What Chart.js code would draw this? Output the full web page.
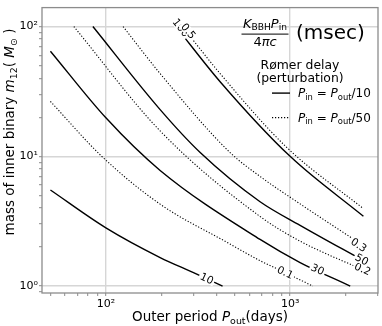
<!DOCTYPE html>
<html>
<head>
<meta charset="utf-8">
<script src="https://cdn.jsdelivr.net/npm/chart.js@4.4.1/dist/chart.umd.min.js"></script>
<style>
  html, body { margin: 0; padding: 0; background: #fff; }
  canvas { display: block; }
</style>
</head>
<body>
<canvas id="delayChart" width="382" height="326"></canvas>
<script>
// contours of K_BBH*P_in/(4 pi c) in msec
// x = outer period (days), y = inner binary mass (Msun)

// solid: P_in = P_out/10
const pOut10 = [50, 100, 197, 299, 430];
const mass10 = [5.5, 2.81, 1.66, 1.27, 1.0];
const pOut30 = [50, 100, 197, 687, 1133, 2120];
const mass30 = [64.6, 19.8, 7.79, 2.29, 1.52, 1.0];
const pOut50 = [85, 197, 325, 687, 1133, 2500];
const mass50 = [100, 22.9, 10.7, 4.47, 2.94, 1.57];
const pOut100 = [240, 417, 1000, 2500];
const mass100 = [100, 37.6, 10, 3.45];

// dotted: P_in = P_out/50
const pOut01 = [50, 95, 197, 453, 687, 940, 1330];
const mass01 = [26.5, 10, 4.28, 2.18, 1.57, 1.27, 1.0];
const pOut02 = [67, 197, 687, 1133, 2500];
const mass02 = [100, 15.7, 3.44, 2.22, 1.33];
const pOut03 = [124, 197, 472, 687, 1133, 2500];
const mass03 = [100, 43.4, 10.7, 7.0, 4.3, 2.05];
const pOut05 = [260, 417, 960, 2500];
const mass05 = [100, 43.4, 11.7, 3.95];

// inline contour labels (text, P_out, m12)
const labelText = ['10', '0.1', '30', '0.2', '50', '0.3', '100', '0.5'];
const labelP = [353, 940, 1409, 2472, 2449, 2355, 255, 280];
const labelM = [1.14, 1.27, 1.34, 1.35, 1.60, 2.07, 97.9, 92.1];

// tick positions
const xTicks = [50, 60, 70, 80, 90, 100, 200, 300, 400, 500, 600, 700, 800, 900, 1000, 2000, 3000];
const yTicks = [0.9, 1, 2, 3, 4, 5, 6, 7, 8, 9, 10, 20, 30, 40, 50, 60, 70, 80, 90, 100];

const FONT = '"DejaVu Sans", "Liberation Sans", sans-serif';
Chart.defaults.font.family = FONT;
Chart.defaults.color = '#000';

const isDecade = v => Math.abs(Math.log10(v) - Math.round(Math.log10(v))) < 1e-9;
const sup = { '0': '\u2070', '1': '\u00b9', '2': '\u00b2', '3': '\u00b3' };
const decadeLabel = v => isDecade(v) ? '10' + sup[String(Math.round(Math.log10(v)))] : '';

function pts(xs, ys) {
  return xs.map((x, i) => ({ x: x, y: ys[i] }));
}

function solid(label, xs, ys) {
  return { label, data: pts(xs, ys), borderColor: '#000', borderWidth: 1.4, cubicInterpolationMode: 'monotone' };
}
function dotted(label, xs, ys) {
  return { label, data: pts(xs, ys), borderColor: '#000', borderWidth: 1.1, borderDash: [1.2, 1.8], cubicInterpolationMode: 'monotone' };
}

// mixed text: [text, kind] with kind '' | 'i' (italic) | 'sub'
function drawRich(ctx, parts, x, y, size, align) {
  const fontFor = k => (k === 'i' ? 'italic ' : '') + (k === 'sub' ? size * 0.7 : size) + 'px ' + FONT;
  let w = 0;
  parts.forEach(([t, k]) => { ctx.font = fontFor(k); w += ctx.measureText(t).width; });
  let cx = align === 'center' ? x - w / 2 : (align === 'right' ? x - w : x);
  ctx.textAlign = 'left';
  ctx.textBaseline = 'alphabetic';
  parts.forEach(([t, k]) => {
    ctx.font = fontFor(k);
    ctx.fillText(t, cx, k === 'sub' ? y + size * 0.22 : y);
    cx += ctx.measureText(t).width;
  });
  return w;
}

function segAngle(meta, px, py) {
  const p = meta.data;
  let best = 0, bd = Infinity;
  for (let i = 0; i < p.length - 1; i++) {
    const ax = p[i].x, ay = p[i].y, bx = p[i + 1].x, by = p[i + 1].y;
    const dx = bx - ax, dy = by - ay;
    let t = ((px - ax) * dx + (py - ay) * dy) / (dx * dx + dy * dy);
    t = Math.max(0, Math.min(1, t));
    const d = (ax + t * dx - px) ** 2 + (ay + t * dy - py) ** 2;
    if (d < bd) { bd = d; best = i; }
  }
  return Math.atan2(p[best + 1].y - p[best].y, p[best + 1].x - p[best].x);
}

const decorations = {
  id: 'decorations',
  afterDatasetsDraw(chart) {
    const { ctx, chartArea: a, scales } = chart;

    // inline contour labels
    ctx.save();
    ctx.font = '10.5px ' + FONT;
    labelText.forEach((txt, i) => {
      const px = scales.x.getPixelForValue(labelP[i]);
      const py = scales.y.getPixelForValue(labelM[i]);
      const ds = chart.data.datasets.findIndex(d => d.label === txt);
      const ang = segAngle(chart.getDatasetMeta(ds), px, py);
      const w = ctx.measureText(txt).width;
      ctx.save();
      ctx.translate(px, py);
      ctx.rotate(ang);
      ctx.fillStyle = '#fff';
      ctx.fillRect(-w / 2 - 1.5, -4.5, w + 3, 9);
      ctx.fillStyle = '#000';
      ctx.textAlign = 'center';
      ctx.textBaseline = 'middle';
      ctx.fillText(txt, 0, 0.5);
      ctx.restore();
    });
    ctx.restore();

    // frame
    ctx.save();
    ctx.strokeStyle = '#8c8c8c';
    ctx.lineWidth = 1.3;
    ctx.strokeRect(a.left, a.top, a.right - a.left, a.bottom - a.top);
    ctx.restore();
  },
  afterDraw(chart) {
    const { ctx, chartArea: a } = chart;
    ctx.save();
    ctx.fillStyle = '#000';

    // axis titles
    drawRich(ctx, [['Outer period ', ''], ['P', 'i'], ['out', 'sub'], ['(days)', '']],
      (a.left + a.right) / 2, 321, 13.5, 'center');
    ctx.save();
    ctx.translate(14, 132);
    ctx.rotate(-Math.PI / 2);
    drawRich(ctx, [['mass of inner binary ', ''], ['m', 'i'], ['12', 'sub'], ['( ', ''], ['M', 'i'], ['\u2299', 'sub'], [' )', '']],
      0, 0, 13.5, 'center');
    ctx.restore();

    // legend title: fraction + (msec)
    const fx = a.right - 113;
    drawRich(ctx, [['K', 'i'], ['BBH', 'sub'], ['P', 'i'], ['in', 'sub']], fx, a.top + 20, 13, 'center');
    ctx.fillRect(fx - 23.5, a.top + 26, 47, 1);
    drawRich(ctx, [['4', ''], ['\u03c0c', 'i']], fx, a.top + 38, 13, 'center');
    drawRich(ctx, [['(msec)', '']], a.right - 82, a.top + 31, 20, 'left');

    drawRich(ctx, [['R\u00f8mer delay', '']], a.right - 78, a.top + 61, 12.4, 'center');
    drawRich(ctx, [['(perturbation)', '']], a.right - 78, a.top + 74, 12.4, 'center');

    // legend entries
    const hx0 = a.right - 106, hx1 = a.right - 88;
    ctx.strokeStyle = '#000';
    ctx.lineWidth = 1.4;
    ctx.beginPath();
    ctx.moveTo(hx0, a.top + 85.5);
    ctx.lineTo(hx1, a.top + 85.5);
    ctx.stroke();
    ctx.lineWidth = 1.1;
    ctx.setLineDash([1.2, 1.8]);
    ctx.beginPath();
    ctx.moveTo(hx0, a.top + 110);
    ctx.lineTo(hx1, a.top + 110);
    ctx.stroke();
    ctx.setLineDash([]);
    drawRich(ctx, [['P', 'i'], ['in', 'sub'], [' = ', ''], ['P', 'i'], ['out', 'sub'], ['/10', '']], a.right - 80, a.top + 89.5, 12, 'left');
    drawRich(ctx, [['P', 'i'], ['in', 'sub'], [' = ', ''], ['P', 'i'], ['out', 'sub'], ['/50', '']], a.right - 80, a.top + 114, 12, 'left');
    ctx.restore();
  }
};

const gridColor = ctx => (ctx.tick && isDecade(ctx.tick.value)) ? '#d6d6d6' : 'rgba(0,0,0,0)';

new Chart(document.getElementById('delayChart'), {
  type: 'line',
  data: {
    datasets: [
      solid('10', pOut10, mass10),
      solid('30', pOut30, mass30),
      solid('50', pOut50, mass50),
      solid('100', pOut100, mass100),
      dotted('0.1', pOut01, mass01),
      dotted('0.2', pOut02, mass02),
      dotted('0.3', pOut03, mass03),
      dotted('0.5', pOut05, mass05)
    ]
  },
  options: {
    responsive: false,
    animation: false,
    layout: { padding: { top: 3, right: 4, left: 0, bottom: 0 } },
    elements: { point: { radius: 0 } },
    plugins: { legend: { display: false }, tooltip: { enabled: false } },
    scales: {
      x: {
        type: 'logarithmic',
        min: 45,
        max: 3000,
        afterBuildTicks: s => { s.ticks = xTicks.map(v => ({ value: v })); },
        afterFit: s => { s.height = 33; },
        ticks: { autoSkip: false, maxRotation: 0, padding: 2, font: { size: 11 }, callback: v => decadeLabel(v) },
        grid: { color: gridColor, lineWidth: 1.4, tickColor: '#8c8c8c', tickLength: 3, tickWidth: 1 },
        border: { display: false }
      },
      y: {
        type: 'logarithmic',
        min: 0.885,
        max: 140,
        afterBuildTicks: s => { s.ticks = yTicks.map(v => ({ value: v })); },
        afterFit: s => { s.width = 42; },
        ticks: { autoSkip: false, padding: 1, font: { size: 11 }, callback: v => decadeLabel(v) },
        grid: { color: gridColor, lineWidth: 1.4, tickColor: '#8c8c8c', tickLength: 3, tickWidth: 1 },
        border: { display: false }
      }
    }
  },
  plugins: [decorations]
});
</script>
</body>
</html>
